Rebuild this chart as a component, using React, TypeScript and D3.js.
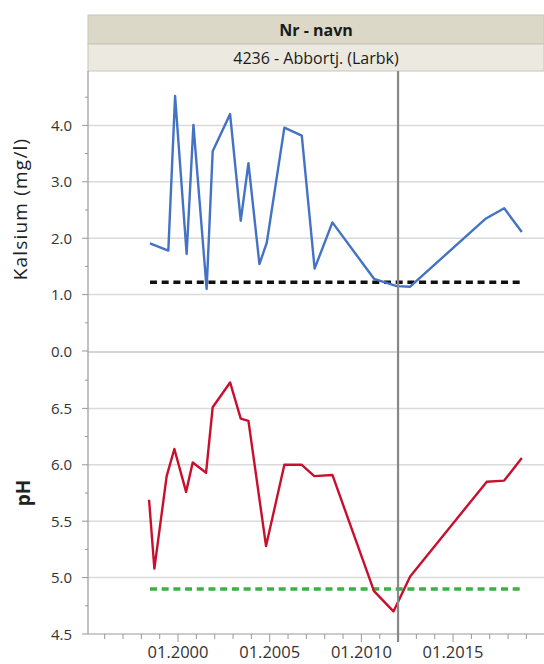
import React from "react";
import * as d3 from "d3";

const kalsiumDates = [1998.47, 1999.47, 1999.84, 2000.47, 2000.84, 2001.56, 2001.89, 2002.84, 2003.42, 2003.84, 2004.44, 2004.84, 2005.8, 2006.75, 2007.45, 2008.42, 2010.69, 2011.93, 2012.66, 2016.75, 2017.79, 2018.75];
const kalsiumValues = [1.91, 1.78, 4.52, 1.72, 4.01, 1.1, 3.54, 4.2, 2.31, 3.33, 1.54, 1.92, 3.96, 3.82, 1.46, 2.28, 1.28, 1.15, 1.14, 2.34, 2.53, 2.11];
const phDates = [1998.42, 1998.71, 1999.38, 1999.8, 2000.44, 2000.8, 2001.53, 2001.89, 2002.84, 2003.42, 2003.84, 2004.8, 2005.8, 2006.75, 2007.43, 2008.42, 2010.69, 2011.75, 2012.66, 2016.84, 2017.79, 2018.75];
const phValues = [5.69, 5.08, 5.9, 6.14, 5.76, 6.02, 5.93, 6.51, 6.73, 6.41, 6.39, 5.28, 6.0, 6.0, 5.9, 5.91, 4.88, 4.7, 5.01, 5.85, 5.86, 6.06];
const kalsiumLimit = 1.22;
const phLimit = 4.9;
const limitRange = [1998.47, 2018.75];
const markerYear = 2012.0;
const xTickYears = [2000, 2005, 2010, 2015];
const kalsiumTicks = [0, 1, 2, 3, 4];
const phTicks = [4.5, 5.0, 5.5, 6.0, 6.5];
const headerTitle = "Nr - navn";
const headerSub = "4236 - Abbortj. (Larbk)";

const FONT = "'Open Sans', 'Noto Sans', sans-serif";

export default function App() {
  const left = 88, right = 544;
  const headTop = 15, headMid = 44, plotTop = 71;
  const split = 352, bottom = 634;
  const x = d3.scaleLinear().domain([1995.09, 2019.96]).range([left, right]);
  const yK = d3.scaleLinear().domain([0, 5]).range([split - 1, split - 1 - 5 * 56.4]);
  const yP = d3.scaleLinear().domain([4.5, 7.0]).range([bottom, split]);

  const lineK = d3.line<number>().x((_, i) => x(kalsiumDates[i])).y((v) => yK(v));
  const lineP = d3.line<number>().x((_, i) => x(phDates[i])).y((v) => yP(v));

  const kMinor = d3.range(0.5, 5, 1);
  const pMinor = d3.range(4.75, 7, 0.5);
  const xMinor = d3.range(1996, 2020, 1).filter((yv) => !xTickYears.includes(yv));
  const tickCol = "#999";
  const gridCol = "#dadada";
  const labelCol = "#333";

  return (
    <svg width={544} height={664} style={{ position: "absolute", left: 0, top: 0 }} fontFamily={FONT}>
      <rect x={0} y={0} width={544} height={664} fill="#fff" />
      {/* header */}
      <rect x={left} y={headTop} width={right - left} height={headMid - headTop} fill="#dbd8c8" stroke="#c8c6b8" />
      <rect x={left} y={headMid} width={right - left} height={plotTop - headMid} fill="#ebe9e0" stroke="#c8c6b8" />
      <text x={(left + right) / 2} y={headTop + 21} textAnchor="middle" fontSize={16} fontWeight="bold" fill="#1a1a1a">{headerTitle}</text>
      <text x={(left + right) / 2} y={headMid + 20} textAnchor="middle" fontSize={16} fill="#1a1a1a">{headerSub}</text>

      {/* gridlines */}
      {kalsiumTicks.slice(1).map((t) => (
        <line key={"gk" + t} x1={left} x2={right} y1={yK(t)} y2={yK(t)} stroke={gridCol} strokeWidth={1.5} />
      ))}
      {phTicks.slice(1).map((t) => (
        <line key={"gp" + t} x1={left} x2={right} y1={yP(t)} y2={yP(t)} stroke={gridCol} strokeWidth={1.5} />
      ))}
      <line x1={left} x2={right} y1={split} y2={split} stroke="#c4c4c4" strokeWidth={1.5} />

      {/* axes */}
      <line x1={left} x2={left} y1={plotTop} y2={bottom} stroke={tickCol} strokeWidth={1.2} />
      <line x1={left} x2={right} y1={bottom} y2={bottom} stroke={tickCol} strokeWidth={1.2} />
      {kalsiumTicks.map((t) => (
        <g key={"tk" + t}>
          <line x1={left - 6} x2={left} y1={yK(t)} y2={yK(t)} stroke={tickCol} />
          <text x={left - 16} y={yK(t) + 5.5} textAnchor="end" fontSize={15} fill={labelCol}>{d3.format(".1f")(t)}</text>
        </g>
      ))}
      {kMinor.map((t) => (
        <line key={"mk" + t} x1={left - 3} x2={left} y1={yK(t)} y2={yK(t)} stroke={tickCol} />
      ))}
      {phTicks.map((t) => (
        <g key={"tp" + t}>
          <line x1={left - 6} x2={left} y1={yP(t)} y2={yP(t)} stroke={tickCol} />
          <text x={left - 16} y={yP(t) + 5.5} textAnchor="end" fontSize={15} fill={labelCol}>{d3.format(".1f")(t)}</text>
        </g>
      ))}
      {pMinor.map((t) => (
        <line key={"mp" + t} x1={left - 3} x2={left} y1={yP(t)} y2={yP(t)} stroke={tickCol} />
      ))}
      {xTickYears.map((yv) => (
        <g key={"xt" + yv}>
          <line x1={x(yv)} x2={x(yv)} y1={bottom} y2={bottom + 8} stroke={tickCol} />
          <text x={x(yv)} y={bottom + 24} textAnchor="middle" fontSize={16.5} fill={labelCol}>{"01." + yv}</text>
        </g>
      ))}
      {xMinor.map((yv) => (
        <line key={"xm" + yv} x1={x(yv)} x2={x(yv)} y1={bottom} y2={bottom + 5} stroke={tickCol} />
      ))}

      {/* axis titles */}
      <text transform={`translate(27,209) rotate(-90)`} textAnchor="middle" fontSize={19} letterSpacing={1.2} fill="#222">Kalsium (mg/l)</text>
      <text transform={`translate(30,493) rotate(-90)`} textAnchor="middle" fontSize={19} fontWeight="bold" fill="#222">pH</text>

      {/* limit lines */}
      <line x1={x(limitRange[0])} x2={x(limitRange[1])} y1={yK(kalsiumLimit)} y2={yK(kalsiumLimit)} stroke="#111" strokeWidth={3.5} strokeDasharray="7,4.7" />
      <line x1={x(limitRange[0])} x2={x(limitRange[1])} y1={yP(phLimit)} y2={yP(phLimit)} stroke="#3cb043" strokeWidth={3.5} strokeDasharray="7,4.7" />

      {/* series */}
      <path d={lineK(kalsiumValues) || ""} fill="none" stroke="#4472c4" strokeWidth={2.4} strokeLinejoin="round" />
      <path d={lineP(phValues) || ""} fill="none" stroke="#c8102e" strokeWidth={2.4} strokeLinejoin="round" />

      {/* marker */}
      <line x1={x(markerYear)} x2={x(markerYear)} y1={plotTop} y2={bottom + 8} stroke="#888" strokeWidth={2.2} />
    </svg>
  );
}
